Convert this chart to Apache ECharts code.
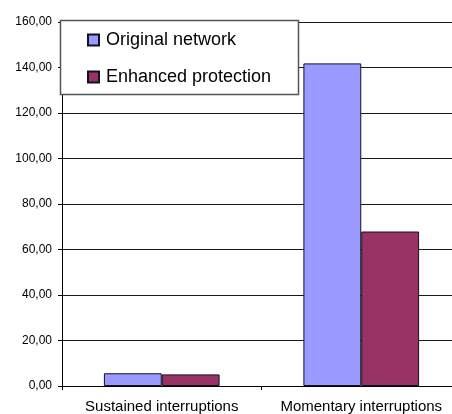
<!DOCTYPE html>
<html>
<head>
<meta charset="utf-8">
<style>
  html, body { margin: 0; padding: 0; background: #fff; overflow: hidden; }
  /* the plot area runs a little past the right edge of the window */
  #chart { width: 470px; height: 414px; }
</style>
<script src="https://cdn.jsdelivr.net/npm/echarts@6/dist/echarts.min.js"></script>
</head>
<body>
<div id="chart"></div>
<script>
// Interruption indices per category
var categories = ['Sustained interruptions', 'Momentary interruptions'];
var seriesNames = ['Original network', 'Enhanced protection'];
var originalNetwork = [5.6, 141.8];
var enhancedProtection = [5.1, 67.9];

var FONT = '"Liberation Sans", Arial, sans-serif';

var chart = echarts.init(document.getElementById('chart'), null, { renderer: 'canvas' });

chart.setOption({
  backgroundColor: '#ffffff',
  animation: false,
  textStyle: { fontFamily: FONT, color: '#000' },
  grid: { left: 62, top: 22, right: 9, bottom: 27, containLabel: false },
  // White framed box behind the legend
  graphic: [{
    type: 'rect',
    z: 3,
    shape: { x: 60.5, y: 20.5, width: 238, height: 74 },
    style: { fill: '#ffffff', stroke: '#555555', lineWidth: 1.5 }
  }],
  legend: {
    orient: 'vertical',
    left: 87,
    top: 31,
    padding: 0,
    itemGap: 19,
    itemWidth: 11,
    itemHeight: 11,
    icon: 'rect',
    data: seriesNames,
    textStyle: { fontSize: 18, fontFamily: FONT, color: '#000', padding: [0, 0, 0, 2] }
  },
  xAxis: {
    type: 'category',
    data: categories,
    axisLine: { lineStyle: { color: '#000', width: 1 } },
    axisTick: { show: true, length: 4, lineStyle: { color: '#000' } },
    axisLabel: { interval: 0, hideOverlap: false, fontSize: 15, color: '#000', fontFamily: FONT, margin: 13 }
  },
  yAxis: {
    type: 'value',
    min: 0,
    max: 160,
    interval: 20,
    axisLine: { show: true, lineStyle: { color: '#000', width: 1 } },
    axisTick: { show: true, length: 4, lineStyle: { color: '#000' } },
    axisLabel: {
      fontSize: 12, color: '#000', fontFamily: FONT, margin: 10,
      formatter: function (v) { return v.toFixed(2).replace('.', ','); }
    },
    splitLine: { show: true, lineStyle: { color: '#1a1a1a', width: 1 } }
  },
  series: [
    {
      name: seriesNames[0],
      type: 'bar',
      data: originalNetwork,
      barGap: '0%',
      barCategoryGap: '42%',
      itemStyle: { color: '#9999ff', borderColor: '#111122', borderWidth: 1 }
    },
    {
      name: seriesNames[1],
      type: 'bar',
      data: enhancedProtection,
      barGap: '0%',
      barCategoryGap: '42%',
      itemStyle: { color: '#993366', borderColor: '#111122', borderWidth: 1 }
    }
  ]
});
</script>
</body>
</html>
